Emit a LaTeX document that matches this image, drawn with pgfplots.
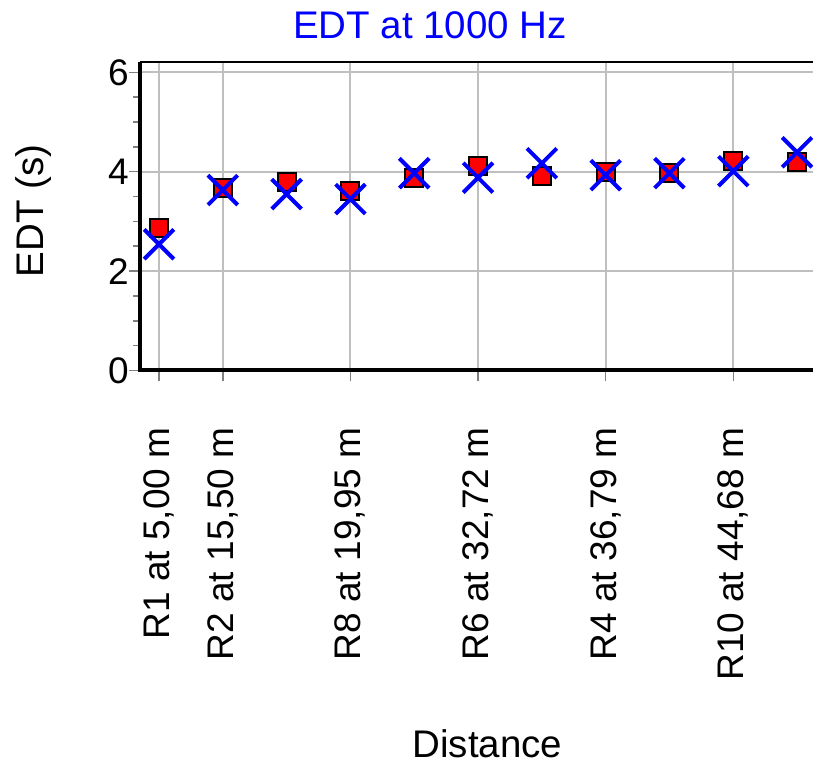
\documentclass[border=0pt]{standalone}
\usepackage{pgfplots}
\pgfplotsset{compat=1.18}
\usepackage{fontspec}
\setmainfont{Liberation Sans}
\begin{document}
\begin{tikzpicture}
\useasboundingbox (0,0) rectangle (813bp,764bp);
\clip (0,0) rectangle (813bp,764bp);
\begin{axis}[
  at={(140bp,393.5bp)}, anchor=south west,
  scale only axis, width=696bp, height=308.5bp,
  xmin=0.702, xmax=11.61, ymin=0, ymax=6.207,
  xtick={1,2,4,6,8,10},
  xticklabels={{R1 at 5,00 m},{R2 at 15,50 m},{R8 at 19,95 m},{R6 at 32,72 m},{R4 at 36,79 m},{R10 at 44,68 m}},
  ytick={0,2,4,6}, minor y tick num=3,
  xtick pos=bottom, ytick pos=left,
  tick align=outside,
  major tick length=11bp, minor tick length=7bp,
  tick style={color=gray, line width=1.5bp},
  grid=major,
  major grid style={color=black!25, line width=2bp},
  axis line style={draw=none},
  ticklabel style={font=\fontsize{37bp}{44bp}\selectfont},
  /pgf/number format/assume math mode=true,
  yticklabel style={anchor=east, inner sep=0pt},
  xticklabel style={rotate=90, anchor=east, inner sep=0pt},
  xticklabel shift=46bp,
  clip=false,
]
\addplot[only marks, mark=square*, mark size=9bp,
  mark options={fill=red, draw=black, line width=2bp}]
  coordinates {(1,2.87) (2,3.67) (3,3.79) (4,3.62) (5,3.88) (6,4.12) (7,3.91) (8,3.99) (9,3.97) (10,4.22) (11,4.20)};
\addplot[only marks, mark=x, mark size=21bp,
  mark options={draw=blue, line width=4bp}]
  coordinates {(1,2.54) (2,3.63) (3,3.55) (4,3.45) (5,3.97) (6,3.88) (7,4.17) (8,3.93) (9,3.97) (10,4.01) (11,4.39)};
\draw[line width=2bp] (rel axis cs:0,1) -- (rel axis cs:1,1);
\draw[line width=4bp] (rel axis cs:0,1) -- (rel axis cs:0,0) -- (rel axis cs:1,0);
\end{axis}
\node[anchor=base, text=blue, font=\fontsize{38.5bp}{46bp}\selectfont, inner sep=0pt] at (430bp,725bp) {EDT at 1000 Hz};
\node[anchor=base, font=\fontsize{38.5bp}{46bp}\selectfont, inner sep=0pt] at (487.5bp,7bp) {Distance};
\node[anchor=base, rotate=90, font=\fontsize{38.5bp}{46bp}\selectfont, inner sep=0pt] at (43bp,553bp) {EDT (s)};
\end{tikzpicture}
\end{document}
